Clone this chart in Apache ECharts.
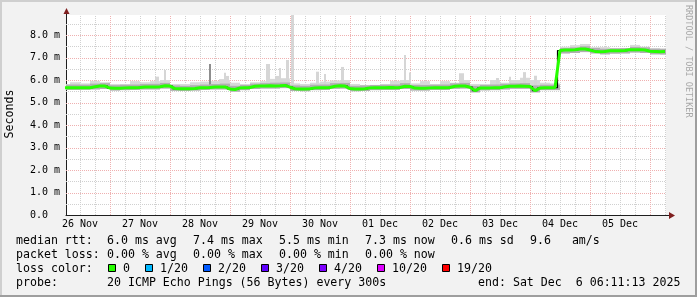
<!DOCTYPE html>
<html><head><meta charset="utf-8">
<script src="https://cdn.jsdelivr.net/npm/echarts@6/dist/echarts.min.js"></script>
<style>html,body{margin:0;padding:0;background:#f2f2f2}#c{width:697px;height:297px}</style>
</head><body><div id="c"></div>
<script>
// ---------------- data ----------------
// time axis in hours since 26 Nov 00:00
const xMin = 6.4, xMax = 246.4;
const dayLabels = ['26 Nov','27 Nov','28 Nov','29 Nov','30 Nov','01 Dec','02 Dec','03 Dec','04 Dec','05 Dec'];
const dayLabelHours = [12,36,60,84,108,132,156,180,204,228];
const yMax = 8.8889;

// median RTT (ms), one sample every 2 h starting at hour 6
const medianStart = 6, medianStep = 2;
const median = [
5.66,5.66,5.66,5.66,5.66,5.66,5.70,5.73,5.73,5.64,
5.63,5.63,5.65,5.66,5.66,5.67,5.69,5.69,5.69,5.70,
5.74,5.73,5.62,5.61,5.61,5.61,5.62,5.66,5.66,5.67,
5.69,5.69,5.69,5.60,5.58,5.65,5.66,5.67,5.72,5.73,
5.73,5.74,5.73,5.74,5.76,5.68,5.61,5.60,5.60,5.61,
5.65,5.66,5.66,5.67,5.72,5.74,5.73,5.62,5.60,5.60,
5.61,5.65,5.66,5.66,5.66,5.67,5.66,5.67,5.72,5.71,
5.64,5.63,5.63,5.65,5.66,5.66,5.66,5.67,5.72,5.73,
5.73,5.68,5.53,5.64,5.65,5.65,5.66,5.66,5.70,5.72,
5.72,5.73,5.72,5.71,5.53,5.64,5.66,5.66,5.66,7.31,
7.33,7.33,7.34,7.38,7.38,7.33,7.27,7.26,7.27,7.30,
7.30,7.30,7.31,7.35,7.35,7.35,7.33,7.28,7.27,7.26,
7.27];

// smoke (ping spread), one block every 4 h starting at hour 6
const smokeStart = 6, smokeStep = 4;
const smokeLow = [
5.56,5.56,5.57,5.58,5.60,5.53,5.55,5.56,5.58,5.58,
5.62,5.52,5.51,5.53,5.56,5.58,5.58,5.48,5.55,5.60,
5.62,5.62,5.64,5.51,5.50,5.55,5.56,5.61,5.62,5.50,
5.51,5.55,5.56,5.56,5.60,5.53,5.53,5.56,5.56,5.61,
5.62,5.45,5.54,5.55,5.58,5.61,5.61,5.45,5.55,5.55,
7.18,7.20,7.24,7.18,7.14,7.17,7.18,7.22,7.20,7.14,7.13];
const smokeMid = [
5.79,5.80,5.79,5.84,5.86,5.77,5.79,5.80,5.82,5.83,
5.87,5.76,5.74,5.77,5.80,5.82,5.84,5.74,5.78,5.84,
5.86,5.88,5.89,5.76,5.74,5.79,5.80,5.86,5.87,5.74,
5.76,5.78,5.79,5.80,5.86,5.78,5.78,5.79,5.80,5.85,
5.87,5.74,5.78,5.80,5.83,5.85,5.86,5.76,5.79,5.79,
7.42,7.45,7.50,7.43,7.39,7.41,7.42,7.47,7.45,7.39,7.38];
const smokeHigh = [
5.82,5.90,5.85,5.96,5.90,5.82,5.82,5.95,5.90,5.95,
6.00,5.82,5.82,5.90,5.93,5.95,6.00,5.88,5.82,5.90,
5.95,6.05,6.07,5.85,5.82,5.88,5.93,5.98,6.00,5.82,
5.78,5.78,5.82,5.96,6.00,5.85,5.95,5.82,5.95,5.88,
6.00,5.82,5.82,6.00,5.88,6.00,6.10,6.00,5.88,5.85,
7.48,7.55,7.60,7.45,7.46,7.41,7.42,7.56,7.48,7.42,7.41];

// single high pings (spikes): start hour, end hour, top value (ms)
const spikeStart = [42.0,45.4,67.6,69.4,70.2,86.2,90.0,91.4,92.4,94.4,96.2,106.4,109.4,116.4,141.4,143.4,163.6,178.4,183.6,189.2,193.6];
const spikeEnd   = [43.6,46.2,69.6,70.2,71.4,87.8,91.6,92.4,94.4,95.6,97.6,107.4,110.4,117.6,142.4,144.2,165.6,179.6,184.4,190.4,194.8];
const spikeTop   = [6.15,6.44,6.04,6.32,6.18,6.71,6.18,6.53,6.07,6.89,9.20,6.37,6.27,6.58,7.11,6.33,6.30,6.09,6.15,6.35,6.19];
const darkSpikeStart = [63.6];
const darkSpikeEnd   = [64.4];
const darkSpikeTop   = [6.71];

// legend texts
const rttStats  = ['6.0 ms avg','7.4 ms max','5.5 ms min','7.3 ms now','0.6 ms sd','9.6   am/s'];
const lossStats = ['0.00 % avg','0.00 % max','0.00 % min','0.00 % now'];
const lossLabels = ['0','1/20','2/20','3/20','4/20','10/20','19/20'];
const lossColors = ['#26ff00','#00b8ff','#0059ff','#5e00ff','#7e00ff','#dd00ff','#ff0000'];
const probeText = '20 ICMP Echo Pings (56 Bytes) every 300s';
const endText = 'end: Sat Dec  6 06:11:13 2025';

// ---------------- chart ----------------
const FONT = 'DejaVu Sans Mono';
const chart = echarts.init(document.getElementById('c'), null, {renderer:'canvas'});

const medianData = median.map((v,i)=>[medianStart + i*medianStep, v]);
const smokeData = smokeHigh.map((hi,j)=>[smokeStart + j*smokeStep, smokeLow[j], smokeMid[j], hi]);
const spikeData = spikeTop.map((t,k)=>[spikeStart[k], spikeEnd[k], t]);
const darkSpikeData = darkSpikeTop.map((t,k)=>[darkSpikeStart[k], darkSpikeEnd[k], t]);

function medianAt(h){
  const i = Math.max(0, Math.min(median.length-1, Math.round((h - medianStart)/medianStep)));
  return median[i];
}

// grid line definitions (positions of ticks, not data)
const vGrid = []; for (let h = 12; h < xMax; h += 6) vGrid.push([h, h % 24 === 0 ? 1 : 0]);
const hGrid = []; for (let v = 0.5; v < yMax; v += 0.5) hGrid.push([v, Number.isInteger(v) ? 1 : 0]);

function rectBetween(api, h0, h1, lo, hi, fill){
  const a = api.coord([h0, hi]), b = api.coord([h1, lo]);
  const x0 = Math.round(a[0]), x1 = Math.round(b[0]);
  return {type:'rect', shape:{x:x0, y:a[1], width:Math.max(1, x1-x0), height:b[1]-a[1]}, style:{fill:fill}};
}

const option = {
  animation:false,
  backgroundColor:'#f2f2f2',
  grid:{left:66, right:31, top:15, bottom:82, show:true, backgroundColor:'#ffffff', borderWidth:0},
  xAxis:{
    type:'value', min:xMin, max:xMax,
    axisLine:{show:true, onZero:false, lineStyle:{color:'#1f1f1f', width:1}},
    axisTick:{show:false}, splitLine:{show:false},
    axisLabel:{customValues:dayLabelHours, formatter:v=>dayLabels[dayLabelHours.indexOf(Math.round(v))] || '',
      fontFamily:FONT, fontSize:10, color:'#000', margin:4}
  },
  yAxis:{
    type:'value', min:0, max:yMax, interval:1,
    axisLine:{show:true, lineStyle:{color:'#1f1f1f', width:1}},
    axisTick:{show:false}, splitLine:{show:false},
    axisLabel:{showMaxLabel:false, formatter:v=> v===0 ? '0.0  ' : v.toFixed(1)+' m',
      fontFamily:FONT, fontSize:10, color:'#000', margin:6}
  },
  series:[
    { // grid lines
      type:'custom', z:1, silent:true, data:[[xMin,0]],
      renderItem(params, api){
        const ch = [];
        vGrid.forEach(([h,maj])=>{
          const p = api.coord([h,0]), q = api.coord([h,yMax]);
          const x = Math.round(p[0]) + 0.5;
          ch.push({type:'line', shape:{x1:x, y1:p[1], x2:x, y2:q[1]},
            style:{stroke: maj ? '#efb0b0' : '#d0d0d0', lineWidth:1, lineDash:[1,1]}, z2: maj?2:1});
        });
        hGrid.forEach(([v,maj])=>{
          const p = api.coord([xMin,v]), q = api.coord([xMax,v]);
          const y = Math.round(p[1]) + 0.5;
          ch.push({type:'line', shape:{x1:p[0], y1:y, x2:q[0], y2:y},
            style:{stroke: maj ? '#efb0b0' : '#d0d0d0', lineWidth:1, lineDash:[1,1]}, z2: maj?2:1});
        });
        return {type:'group', children:ch};
      }
    },
    { // light smoke
      type:'custom', z:2, clip:true, silent:true, data:smokeData,
      renderItem(params, api){
        const h = api.value(0);
        return rectBetween(api, h - smokeStep/2, h + smokeStep/2, api.value(1), api.value(3), '#d9d9d9');
      }
    },
    { // spikes
      type:'custom', z:3, clip:true, silent:true, data:spikeData,
      renderItem(params, api){
        const h0 = api.value(0), h1 = api.value(1);
        return rectBetween(api, h0, h1, medianAt((h0+h1)/2), api.value(2), '#d6d6d6');
      }
    },
    { // darker spike
      type:'custom', z:3, clip:true, silent:true, data:darkSpikeData,
      renderItem(params, api){
        const h0 = api.value(0), h1 = api.value(1);
        return rectBetween(api, h0, h1, medianAt((h0+h1)/2), api.value(2), '#8e8e8e');
      }
    },
    { // mid smoke
      type:'custom', z:4, clip:true, silent:true, data:smokeData,
      renderItem(params, api){
        const h = api.value(0);
        return rectBetween(api, h - smokeStep/2, h + smokeStep/2, api.value(1), api.value(2), '#b0b0b0');
      }
    },
    { // black median
      type:'line', z:5, data:medianData, step:'middle', showSymbol:false, symbol:'none',
      lineStyle:{color:'#000', width:1.2}, silent:true
    },
    { // green median (loss 0)
      type:'line', z:6, data:medianData, showSymbol:false, symbol:'none',
      lineStyle:{color:lossColors[0], width:3}, silent:true
    }
  ],
  graphic:[]
};

const G = option.graphic;
// frame shading
G.push({type:'rect', shape:{x:0,y:0,width:697,height:2}, style:{fill:'#cfcfcf'}, z:100});
G.push({type:'rect', shape:{x:0,y:0,width:2,height:297}, style:{fill:'#cfcfcf'}, z:100});
G.push({type:'rect', shape:{x:695,y:0,width:2,height:297}, style:{fill:'#9e9e9e'}, z:101});
G.push({type:'rect', shape:{x:0,y:295,width:697,height:2}, style:{fill:'#9e9e9e'}, z:101});
// axis arrows
G.push({type:'line', shape:{x1:666,y1:215.5,x2:670,y2:215.5}, style:{stroke:'#1f1f1f', lineWidth:1}, z:100});
G.push({type:'polygon', shape:{points:[[669,212],[675,215.5],[669,219]]}, style:{fill:'#7f1f1f'}, z:100});
G.push({type:'line', shape:{x1:66.5,y1:16,x2:66.5,y2:12}, style:{stroke:'#1f1f1f', lineWidth:1}, z:100});
G.push({type:'polygon', shape:{points:[[63.5,14],[66.5,8],[69.5,14]]}, style:{fill:'#7f1f1f'}, z:100});
// axis title and watermark
G.push({type:'text', x:10, y:114, rotation:Math.PI/2,
  style:{text:'Seconds', fontFamily:FONT, fontSize:11.6, fill:'#000', align:'center', verticalAlign:'middle'}, z:100});
G.push({type:'text', x:688.5, y:5, rotation:-Math.PI/2,
  style:{text:'RRDTOOL / TOBI OETIKER', fontFamily:FONT, fontSize:8.5, fill:'#a8a8a8', align:'left', verticalAlign:'middle'}, z:100});

function txt(s, x, y){
  G.push({type:'text', x:x, y:y, style:{text:s, fontFamily:FONT, fontSize:11.6, fill:'#000', align:'left', verticalAlign:'middle'}, z:100});
}
const rowY = [241, 255, 269, 283];
const statX = [107, 193, 279, 365, 451, 530];
txt('median rtt:', 16, rowY[0]);
rttStats.forEach((s,k)=>txt(s, statX[k], rowY[0]));
txt('packet loss:', 16, rowY[1]);
lossStats.forEach((s,k)=>txt(s, statX[k], rowY[1]));
txt('loss color:', 16, rowY[2]);
const CW = 7;
let bx = 108.5;
lossLabels.forEach((s,k)=>{
  G.push({type:'rect', shape:{x:bx, y:rowY[2]-4.5, width:7, height:7},
    style:{fill:lossColors[k], stroke:'#000', lineWidth:1}, z:100});
  txt(s, bx + 14.5, rowY[2]);
  bx = bx + 14.5 + s.length*CW + 15.5;
});
txt('probe:', 16, rowY[3]);
txt(probeText, 107, rowY[3]);
txt(endText, 478, rowY[3]);

chart.setOption(option);
</script></body></html>
